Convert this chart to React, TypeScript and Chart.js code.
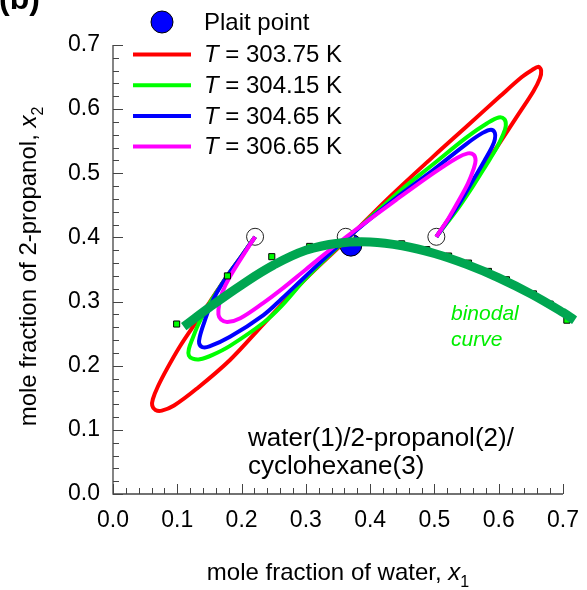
import React, { useEffect, useRef } from 'react';
import { Chart, registerables } from 'chart.js';
Chart.register(...registerables);

const FONT = "'Liberation Sans', Arial, Helvetica, sans-serif";

// ---- data ----
const X_TICKS = [0, 0.1, 0.2, 0.3, 0.4, 0.5, 0.6, 0.7];
const X_LABELS = ['0.0', '0.1', '0.2', '0.3', '0.4', '0.5', '0.6', '0.7'];
const Y_TICKS = [0, 0.1, 0.2, 0.3, 0.4, 0.5, 0.6, 0.7];
const Y_LABELS = ['0.0', '0.1', '0.2', '0.3', '0.4', '0.5', '0.6', '0.7'];
const MINOR_STEP = 0.02;

const SERIES_LABELS = ['303.75 K', '304.15 K', '304.65 K', '306.65 K'];

const RED_X = [0.221, 0.200, 0.177, 0.151, 0.128, 0.104, 0.085, 0.070, 0.062, 0.061, 0.066, 0.076, 0.095, 0.130, 0.182, 0.234, 0.262, 0.300, 0.363, 0.426, 0.498, 0.550, 0.602, 0.636, 0.652, 0.662, 0.666, 0.664, 0.654, 0.630, 0.600, 0.570, 0.540, 0.503];
const RED_Y = [0.401, 0.371, 0.339, 0.300, 0.266, 0.230, 0.197, 0.168, 0.148, 0.138, 0.131, 0.130, 0.138, 0.164, 0.209, 0.265, 0.295, 0.336, 0.396, 0.459, 0.526, 0.573, 0.620, 0.650, 0.661, 0.666, 0.660, 0.648, 0.628, 0.591, 0.545, 0.500, 0.455, 0.401];

const GREEN_X = [0.221, 0.200, 0.177, 0.160, 0.146, 0.133, 0.124, 0.118, 0.118, 0.124, 0.135, 0.155, 0.182, 0.234, 0.262, 0.300, 0.363, 0.446, 0.498, 0.550, 0.582, 0.600, 0.609, 0.611, 0.607, 0.597, 0.580, 0.560, 0.535, 0.503];
const GREEN_Y = [0.401, 0.371, 0.339, 0.313, 0.290, 0.265, 0.243, 0.226, 0.216, 0.211, 0.210, 0.217, 0.231, 0.267, 0.293, 0.336, 0.397, 0.472, 0.514, 0.556, 0.578, 0.587, 0.584, 0.574, 0.561, 0.540, 0.512, 0.480, 0.443, 0.401];

const BLUE_X = [0.221, 0.200, 0.177, 0.161, 0.150, 0.141, 0.135, 0.134, 0.139, 0.150, 0.182, 0.234, 0.262, 0.300, 0.363, 0.446, 0.498, 0.550, 0.575, 0.588, 0.594, 0.594, 0.590, 0.578, 0.560, 0.535, 0.503];
const BLUE_Y = [0.401, 0.371, 0.339, 0.313, 0.290, 0.265, 0.245, 0.235, 0.229, 0.230, 0.245, 0.279, 0.304, 0.340, 0.398, 0.466, 0.505, 0.546, 0.563, 0.568, 0.563, 0.553, 0.542, 0.520, 0.489, 0.447, 0.401];

const MAG_X = [0.221, 0.208, 0.182, 0.170, 0.165, 0.164, 0.168, 0.178, 0.198, 0.234, 0.262, 0.300, 0.363, 0.441, 0.498, 0.535, 0.552, 0.561, 0.564, 0.561, 0.552, 0.538, 0.522, 0.503];
const MAG_Y = [0.401, 0.381, 0.339, 0.314, 0.295, 0.280, 0.272, 0.268, 0.274, 0.298, 0.319, 0.350, 0.401, 0.459, 0.500, 0.524, 0.531, 0.529, 0.520, 0.507, 0.484, 0.458, 0.430, 0.401];

// binodal curve, listed from the cyclohexane-poor end back to the water-poor end
const BIN_X = [0.718, 0.700, 0.650, 0.600, 0.550, 0.500, 0.450, 0.400, 0.350, 0.300, 0.250, 0.200, 0.150, 0.110];
const BIN_Y = [0.271, 0.283, 0.312, 0.337, 0.358, 0.375, 0.387, 0.393, 0.391, 0.380, 0.357, 0.326, 0.291, 0.261];

const EXP_X = [0.099, 0.178, 0.247, 0.306, 0.449, 0.488, 0.522, 0.553, 0.584, 0.612, 0.654, 0.680, 0.706];
const EXP_Y = [0.265, 0.340, 0.370, 0.386, 0.390, 0.381, 0.371, 0.360, 0.347, 0.334, 0.312, 0.296, 0.271];

const TIE_X = [0.221, 0.362, 0.503];
const TIE_Y = [0.401, 0.401, 0.401];

const PLAIT_X = [0.370];
const PLAIT_Y = [0.388];

const COLORS = ['#FF0000', '#00FF00', '#0000FF', '#FF00FF'];

const zip = (xs: number[], ys: number[]) => xs.map((x, i) => ({ x, y: ys[i] }));

type Part = { text: string; italic?: boolean; bold?: boolean; size: number; dy?: number };

function partFont(p: Part) {
  return `${p.italic ? 'italic ' : ''}${p.bold ? 'bold ' : ''}${p.size}px ${FONT}`;
}
function richWidth(ctx: CanvasRenderingContext2D, parts: Part[]) {
  let w = 0;
  for (const p of parts) {
    ctx.font = partFont(p);
    w += ctx.measureText(p.text).width;
  }
  return w;
}
function drawRich(ctx: CanvasRenderingContext2D, x: number, y: number, parts: Part[]) {
  let cx = x;
  for (const p of parts) {
    ctx.font = partFont(p);
    ctx.fillText(p.text, cx, y + (p.dy || 0));
    cx += ctx.measureText(p.text).width;
  }
}

const axesPlugin = {
  id: 'axesPlugin',
  beforeDatasetsDraw(chart: any) {
    const ctx = chart.ctx as CanvasRenderingContext2D;
    const xs = chart.scales.x;
    const ys = chart.scales.y;
    const { left, right, top, bottom } = chart.chartArea;
    ctx.save();
    ctx.strokeStyle = '#444';
    ctx.lineWidth = 1.3;
    ctx.beginPath();
    ctx.moveTo(left, top);
    ctx.lineTo(left, bottom);
    ctx.lineTo(right, bottom);
    ctx.stroke();
    ctx.lineWidth = 1;
    const n = Math.round(0.7 / MINOR_STEP);
    for (let i = 0; i <= n; i++) {
      const v = i * MINOR_STEP;
      const major = i % 5 === 0;
      const len = major ? 10 : 6;
      const px = Math.round(xs.getPixelForValue(v)) + 0.5;
      ctx.beginPath();
      ctx.moveTo(px, bottom);
      ctx.lineTo(px, bottom - len);
      ctx.stroke();
      const py = Math.round(ys.getPixelForValue(v)) + 0.5;
      ctx.beginPath();
      ctx.moveTo(left, py);
      ctx.lineTo(left + len, py);
      ctx.stroke();
    }
    ctx.restore();
  },
};

const textPlugin = {
  id: 'textPlugin',
  afterDraw(chart: any) {
    const ctx = chart.ctx as CanvasRenderingContext2D;
    const { left, right, top, bottom } = chart.chartArea;
    ctx.save();
    ctx.fillStyle = '#000';
    ctx.textBaseline = 'alphabetic';
    ctx.textAlign = 'left';

    // panel label
    drawRich(ctx, -1, 9, [{ text: '(b)', bold: true, size: 32 }]);

    // legend: plait point
    ctx.beginPath();
    ctx.arc(162, 22, 11, 0, Math.PI * 2);
    ctx.fillStyle = '#0000FF';
    ctx.fill();
    ctx.strokeStyle = '#000';
    ctx.lineWidth = 1;
    ctx.stroke();
    ctx.fillStyle = '#000';
    ctx.textBaseline = 'middle';
    drawRich(ctx, 204, 23, [{ text: 'Plait point', size: 24 }]);

    const rows = [54.5, 85.2, 115.9, 146.6];
    SERIES_LABELS.forEach((lab, i) => {
      ctx.strokeStyle = COLORS[i];
      ctx.lineWidth = 4;
      ctx.beginPath();
      ctx.moveTo(133, rows[i]);
      ctx.lineTo(191, rows[i]);
      ctx.stroke();
      ctx.fillStyle = '#000';
      drawRich(ctx, 204, rows[i] + 1, [
        { text: 'T', italic: true, size: 24 },
        { text: ' = ' + lab, size: 24 },
      ]);
    });

    ctx.textBaseline = 'alphabetic';
    // binodal curve annotation
    ctx.fillStyle = '#00EE00';
    drawRich(ctx, 451, 320, [{ text: 'binodal', italic: true, size: 21 }]);
    drawRich(ctx, 451, 346, [{ text: 'curve', italic: true, size: 21 }]);

    // system annotation
    ctx.fillStyle = '#000';
    drawRich(ctx, 248, 446, [{ text: 'water(1)/2-propanol(2)/', size: 26 }]);
    drawRich(ctx, 248, 474, [{ text: 'cyclohexane(3)', size: 26 }]);

    // x axis title
    const xParts: Part[] = [
      { text: 'mole fraction of water, ', size: 24 },
      { text: 'x', italic: true, size: 24 },
      { text: '1', size: 16, dy: 7 },
    ];
    const xw = richWidth(ctx, xParts);
    drawRich(ctx, (left + right) / 2 - xw / 2, 580, xParts);

    // y axis title
    const yParts: Part[] = [
      { text: 'mole fraction of 2-propanol, ', size: 24 },
      { text: 'x', italic: true, size: 24 },
      { text: '2', size: 16, dy: 7 },
    ];
    const yw = richWidth(ctx, yParts);
    ctx.translate(36, (top + bottom) / 2 - 3);
    ctx.rotate(-Math.PI / 2);
    drawRich(ctx, -yw / 2, 0, yParts);
    ctx.restore();
  },
};

export default function App() {
  const ref = useRef<HTMLCanvasElement>(null);
  useEffect(() => {
    document.body.style.margin = '0';
    const lineDs = (label: string, xs: number[], ys: number[], color: string, order: number) => ({
      label,
      data: zip(xs, ys),
      showLine: true,
      borderColor: color,
      backgroundColor: color,
      borderWidth: 4,
      pointRadius: 0,
      tension: 0.35,
      order,
    });
    const chart = new Chart(ref.current!, {
      type: 'scatter',
      data: {
        datasets: [
          {
            label: 'binodal curve',
            data: zip(BIN_X, BIN_Y),
            showLine: true,
            borderColor: '#00A651',
            backgroundColor: '#00A651',
            borderWidth: 9,
            pointRadius: 0,
            tension: 0.4,
            clip: false,
            order: 0,
          } as any,
          {
            label: 'exp',
            data: zip(EXP_X, EXP_Y),
            showLine: false,
            pointStyle: 'rect',
            pointRadius: 4.3,
            backgroundColor: '#00FF00',
            borderColor: '#000',
            borderWidth: 1,
            clip: false,
            order: 1,
          } as any,
          lineDs('T = ' + SERIES_LABELS[3], MAG_X, MAG_Y, COLORS[3], 2),
          lineDs('T = ' + SERIES_LABELS[2], BLUE_X, BLUE_Y, COLORS[2], 3),
          lineDs('T = ' + SERIES_LABELS[1], GREEN_X, GREEN_Y, COLORS[1], 4),
          lineDs('T = ' + SERIES_LABELS[0], RED_X, RED_Y, COLORS[0], 5),
          {
            label: 'tie',
            data: zip(TIE_X, TIE_Y),
            showLine: false,
            pointStyle: 'circle',
            pointRadius: 8.5,
            backgroundColor: '#FFFFFF',
            borderColor: '#222',
            borderWidth: 1,
            order: 6,
          } as any,
          {
            label: 'Plait point',
            data: zip(PLAIT_X, PLAIT_Y),
            showLine: false,
            pointStyle: 'circle',
            pointRadius: 11,
            backgroundColor: '#0000FF',
            borderColor: '#000',
            borderWidth: 1,
            order: 7,
          } as any,
        ],
      },
      options: {
        responsive: false,
        animation: false,
        devicePixelRatio: 1,
        layout: { padding: { left: 0, top: 45, right: 24, bottom: 0 } },
        plugins: { legend: { display: false }, tooltip: { enabled: false } },
        events: [],
        scales: {
          x: {
            type: 'linear',
            min: 0,
            max: 0.7,
            grid: { display: false, drawTicks: false },
            border: { display: false },
            afterBuildTicks: (axis: any) => {
              axis.ticks = X_TICKS.map((v) => ({ value: v }));
            },
            afterFit: (axis: any) => {
              axis.height = 96;
              axis.paddingLeft = 0;
              axis.paddingRight = 0;
            },
            ticks: {
              autoSkip: false,
              maxRotation: 0,
              padding: 13,
              color: '#000',
              font: { family: FONT, size: 23 },
              callback: (_v: any, i: number) => X_LABELS[i],
            },
          },
          y: {
            type: 'linear',
            min: 0,
            max: 0.7,
            grid: { display: false, drawTicks: false },
            border: { display: false },
            afterBuildTicks: (axis: any) => {
              axis.ticks = Y_TICKS.map((v) => ({ value: v }));
            },
            afterFit: (axis: any) => {
              axis.width = 113;
              axis.paddingTop = 0;
              axis.paddingBottom = 0;
            },
            ticks: {
              autoSkip: false,
              padding: 13,
              color: '#000',
              font: { family: FONT, size: 23 },
              callback: (_v: any, i: number) => Y_LABELS[i],
            },
          },
        },
      } as any,
      plugins: [axesPlugin, textPlugin],
    });
    return () => chart.destroy();
  }, []);
  return (
    <div style={{ width: 587, height: 590 }}>
      <canvas ref={ref} width={587} height={590} style={{ display: 'block' }} />
    </div>
  );
}
